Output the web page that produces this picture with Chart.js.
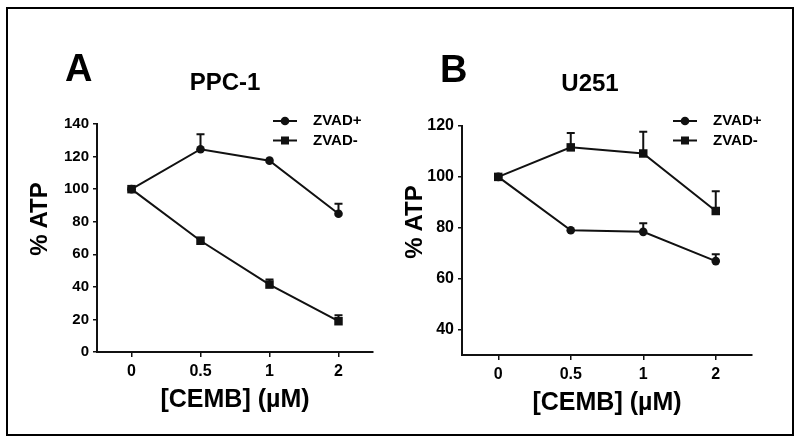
<!DOCTYPE html>
<html>
<head>
<meta charset="utf-8">
<script src="https://cdn.jsdelivr.net/npm/chart.js@4.4.1/dist/chart.umd.min.js"></script>
<style>
body { margin: 0; background: #fff; }
#wrap { position: relative; width: 800px; height: 443px; overflow: hidden; font-family: 'Liberation Sans', Arial, sans-serif; font-weight: bold; color: #000; }
#frame { position: absolute; left: 6px; top: 7px; width: 788px; height: 429px; border: 2.5px solid #000; box-sizing: border-box; }
canvas { position: absolute; top: 0; }
.lbl { position: absolute; white-space: nowrap; text-align: center; }
</style>
</head>
<body>
<div id="wrap">
  <div id="frame"></div>
  <canvas id="chartA" width="400" height="443" style="left:0"></canvas>
  <canvas id="chartB" width="400" height="443" style="left:400px"></canvas>
  <div class="lbl" style="left:65px;top:49px;font-size:38px;line-height:38px;text-align:left">A</div>
  <div class="lbl" style="left:440px;top:50px;font-size:38px;line-height:38px;text-align:left">B</div>
  <div class="lbl" style="left:125px;top:70px;width:200px;font-size:24px;line-height:24px">PPC-1</div>
  <div class="lbl" style="left:490px;top:71px;width:200px;font-size:24px;line-height:24px">U251</div>
  <div class="lbl" style="left:-61px;top:207px;width:200px;font-size:24px;line-height:24px;transform:rotate(-90deg)">% ATP</div>
  <div class="lbl" style="left:314px;top:210px;width:200px;font-size:24px;line-height:24px;transform:rotate(-90deg)">% ATP</div>
</div>
<script>
// doses on the x axis
const doses = ['0', '0.5', '1', '2'];
const seriesNames = ['ZVAD+', 'ZVAD-'];

// PPC-1 panel
const ppcPlus = [100, 124.5, 117.5, 84.9];
const ppcPlusErr = [0, 9.2, 0, 6.1];
const ppcMinus = [100, 68.3, 41.4, 18.9];
const ppcMinusErr = [0, 1.9, 3.1, 3.7];

// U251 panel
const uPlus = [100, 79.0, 78.4, 66.9];
const uPlusErr = [0, 0, 3.4, 2.7];
const uMinus = [100, 111.6, 109.2, 86.6];
const uMinusErr = [0, 5.6, 8.5, 7.8];
const uTicks = [40, 60, 80, 100, 120];

const fontFamily = "'Liberation Sans', Arial, sans-serif";
const ink = '#111';

// upper error bars, drawn under the markers
let errorBars = {
    id: 'errorBars',
    beforeDatasetsDraw(chart) {
        let ctx = chart.ctx;
        let yScale = chart.scales.y;
        chart.data.datasets.forEach((ds, i) => {
            let meta = chart.getDatasetMeta(i);
            meta.data.forEach((pt, j) => {
                let err = ds.errors[j];
                if (!err) return;
                let top = yScale.getPixelForValue(ds.data[j] + err);
                ctx.save();
                ctx.strokeStyle = ink;
                ctx.lineWidth = 2;
                ctx.beginPath();
                ctx.moveTo(pt.x, pt.y);
                ctx.lineTo(pt.x, top);
                ctx.moveTo(pt.x - 4, top);
                ctx.lineTo(pt.x + 4, top);
                ctx.stroke();
                ctx.restore();
            });
        });
    }
};

// legend with a line through the marker, like the original figure
let legendBox = {
    id: 'legendBox',
    afterDraw(chart) {
        let ctx = chart.ctx;
        chart.data.datasets.forEach((ds, i) => {
            let y = 121 + i * 19.5;
            ctx.save();
            ctx.strokeStyle = ink;
            ctx.fillStyle = ink;
            ctx.lineWidth = 2;
            ctx.beginPath();
            ctx.moveTo(273, y);
            ctx.lineTo(297, y);
            ctx.stroke();
            if (ds.pointStyle === 'rect') {
                ctx.fillRect(281, y - 4, 8, 8);
            } else {
                ctx.beginPath();
                ctx.arc(285, y, 4.3, 0, Math.PI * 2);
                ctx.fill();
            }
            ctx.fillStyle = '#000';
            ctx.font = 'bold 15px ' + fontFamily;
            ctx.textBaseline = 'middle';
            ctx.fillText(ds.label, 313, y);
            ctx.restore();
        });
    }
};

function makeChart(id, plus, plusErr, minus, minusErr, yScale, box) {
    let dataset = (label, data, errors, style, radius) => ({
        label: label,
        data: data,
        errors: errors,
        borderColor: ink,
        backgroundColor: ink,
        borderWidth: 2,
        pointStyle: style,
        pointRadius: radius,
        pointHoverRadius: radius,
        pointBorderWidth: 0,
        pointBackgroundColor: ink,
        tension: 0
    });
    return new Chart(document.getElementById(id), {
        type: 'line',
        data: {
            labels: doses,
            datasets: [
                dataset(seriesNames[0], plus, plusErr, 'circle', 4.3),
                dataset(seriesNames[1], minus, minusErr, 'rect', 6)
            ]
        },
        options: {
            responsive: false,
            animation: false,
            events: [],
            layout: { padding: { left: 0, right: box.right, top: box.top, bottom: 0 } },
            plugins: { legend: { display: false }, tooltip: { enabled: false } },
            scales: {
                x: {
                    offset: true,
                    grid: { drawOnChartArea: false, color: ink, tickLength: 5, lineWidth: 1.5 },
                    border: { color: ink, width: 2 },
                    ticks: { color: '#000', padding: 5, font: { family: fontFamily, size: 16, weight: 'bold' } },
                    title: {
                        display: true,
                        text: '[CEMB] (\u00b5M)',
                        color: '#000',
                        font: { family: fontFamily, size: 25, weight: 'bold' },
                        padding: { top: 0, bottom: box.titleBottom }
                    },
                    afterFit: s => { s.height = box.xHeight; }
                },
                y: Object.assign({
                    grid: { drawOnChartArea: false, color: ink, tickLength: 4, lineWidth: 1.5 },
                    border: { color: ink, width: 2 },
                    afterFit: s => { s.width = box.yWidth; }
                }, yScale)
            }
        },
        plugins: [errorBars, legendBox]
    });
}

makeChart('chartA', ppcPlus, ppcPlusErr, ppcMinus, ppcMinusErr, {
    min: 0,
    max: 140,
    ticks: { stepSize: 20, color: '#000', padding: 4, font: { family: fontFamily, size: 15, weight: 'bold' } }
}, { right: 27, top: 124, xHeight: 91, yWidth: 97, titleBottom: 28 });

makeChart('chartB', uPlus, uPlusErr, uMinus, uMinusErr, {
    min: 30,
    max: 120,
    afterBuildTicks: s => { s.ticks = uTicks.map(v => ({ value: v })); },
    ticks: { color: '#000', padding: 4, font: { family: fontFamily, size: 16, weight: 'bold' } }
}, { right: 48, top: 126, xHeight: 88, yWidth: 62, titleBottom: 25 });
</script>
</body>
</html>
